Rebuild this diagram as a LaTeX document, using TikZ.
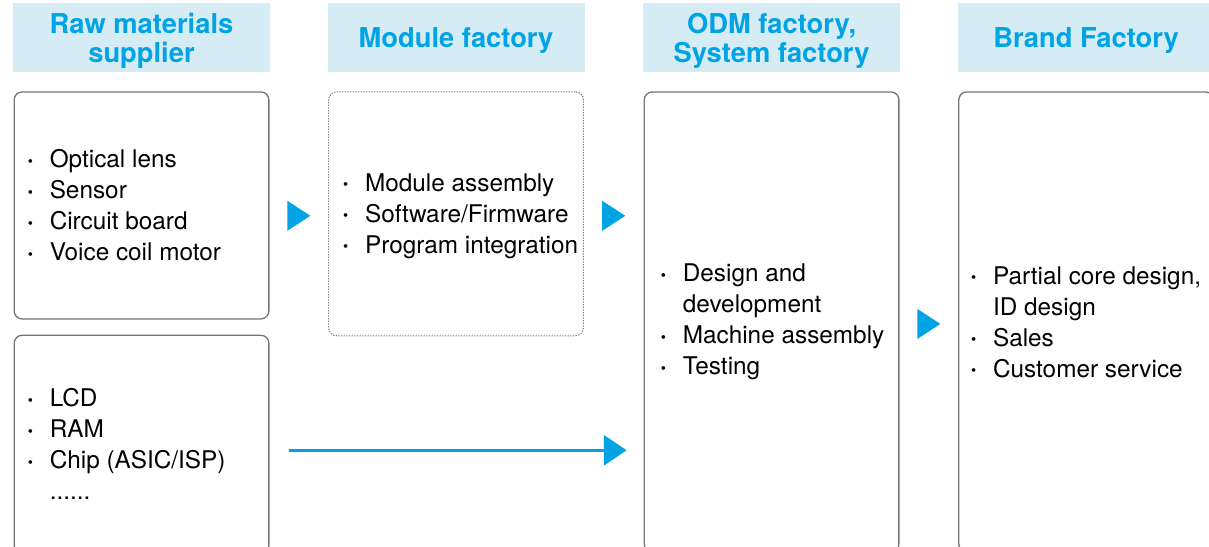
\documentclass[tikz,border=0pt]{standalone}
\usepackage{fontspec}
\setmainfont{TeX Gyre Heros}
\usetikzlibrary{arrows.meta,positioning,calc}
\definecolor{chainblue}{RGB}{0,163,228}
\definecolor{headfill}{RGB}{213,236,244}
\definecolor{boxgray}{RGB}{118,118,118}
\newcommand{\itm}[1]{\makebox[16.5pt][l]{\raisebox{1.2pt}{\fontsize{11}{11}\selectfont\textbullet}}#1}
\newcommand{\cnt}[1]{\hspace*{16.5pt}#1}
\tikzset{
  >={Triangle[length=17pt,width=22.5pt]},
  head/.style={fill=headfill, minimum width=192.75pt, minimum height=51.75pt, inner sep=0pt},
  headtxt/.style={text=chainblue, font=\fontsize{20.5}{21.75}\selectfont\bfseries, align=center, inner sep=0pt},
  stage/.style={draw=boxgray, line width=1pt, rounded corners=6pt, minimum width=191pt, inner sep=0pt},
  modbox/.style={stage, densely dotted, line width=0.8pt},
  items/.style={font=\fontsize{18.25}{23.25}\selectfont, align=left, inner sep=0pt, anchor=west},
  tri/.style={fill=chainblue},
  flow/.style={->, chainblue, line width=2pt},
}
\begin{document}
\begin{tikzpicture}[x=0.75pt,y=-0.75pt]
  \useasboundingbox (0,0) rectangle (1209,546);
  % stage headers
  \node[head] (h1) at (141.5,37.5) {};
  \node[head, right=42.75pt of h1] (h2) {};
  \node[head, right=43.5pt of h2] (h3) {};
  \node[head, right=42.75pt of h3] (h4) {};
  \node[headtxt] (h1t) at ([yshift=-2.25pt]h1.center) {Raw materials\\supplier};
  \node[headtxt] (h2t) at ([yshift=-2.25pt]h2.center) {Module factory};
  \node[headtxt] (h3t) at ([yshift=-2.25pt]h3.center) {ODM factory,\\System factory};
  \node[headtxt] (h4t) at ([yshift=-2.25pt]h4.center) {Brand Factory};
  % stage boxes
  \node[stage, minimum height=170.25pt, below=14.25pt of h1] (raw) {};
  \node[stage, minimum height=163.5pt, below=11.25pt of raw] (chip) {};
  \node[modbox, minimum height=183pt, below=14.25pt of h2] (mod) {};
  \node[stage, minimum height=345pt, below=14.25pt of h3] (odm) {};
  \node[stage, minimum height=345pt, below=14.25pt of h4] (brand) {};
  % lists
  \node[items] (rawtxt) at ([xshift=10.5pt]raw.west)
    {\itm{Optical lens}\\\itm{Sensor}\\\itm{Circuit board}\\\itm{Voice coil motor}};
  \node[items] (chiptxt) at ([xshift=10.5pt]chip.west)
    {\itm{LCD}\\\itm{RAM}\\\itm{Chip (ASIC/ISP)}\\\cnt{......}};
  \node[items] (modtxt) at ([xshift=11pt,yshift=-1.5pt]mod.west)
    {\itm{Module assembly}\\\itm{Software/Firmware}\\\itm{Program integration}};
  \node[items] (odmtxt) at ([xshift=12.75pt]odm.west)
    {\itm{Design and}\\\cnt{development}\\\itm{Machine assembly}\\\itm{Testing}};
  \node[items] (brandtxt) at ([xshift=9.5pt]brand.west)
    {\itm{Partial core design,}\\\cnt{ID design}\\\itm{Sales}\\\itm{Customer service}};
  % flow marks
  \coordinate (a1) at ($(raw.east |- mod.west)!0.5!(mod.west)$);
  \coordinate (a2) at ($(mod.east)!0.5!(odm.west |- mod.east)$);
  \coordinate (a3) at ($(odm.east)!0.5!(brand.west)$);
  \foreach \a in {a1,a2,a3}
    \fill[tri] ($(\a)+(-11.5,-13)$) -- ++(23,15) -- ++(-23,15) -- cycle;
  \coordinate (ls) at ([xshift=14.25pt,yshift=-4.5pt]chip.east);
  \coordinate (le) at ($(ls -| odm.west)+(-17,0)$);
  \draw[flow] (ls) -- (le);
\end{tikzpicture}
\end{document}
